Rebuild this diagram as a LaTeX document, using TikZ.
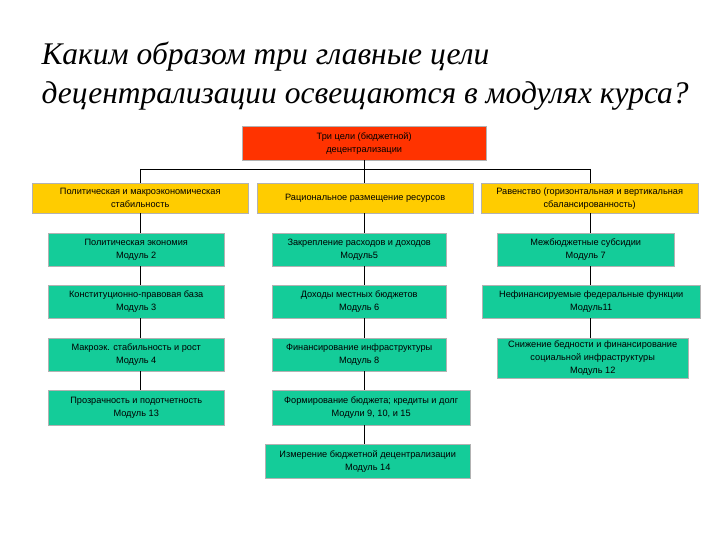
\documentclass[tikz,border=0pt]{standalone}
\usepackage{fontspec}
\setmainfont{Liberation Serif}
\newfontfamily\boxfont{Liberation Sans}
\definecolor{gr}{RGB}{20,204,153}
\definecolor{ye}{RGB}{255,204,0}
\definecolor{rd}{RGB}{255,51,0}
\begin{document}
\begin{tikzpicture}[x=1pt,y=-1pt,
  bx/.style={draw=gray!60,line width=0.4pt,font=\boxfont\fontsize{9.2}{13}\selectfont,align=center,inner sep=0pt,anchor=north west},
  ln/.style={black,line width=0.6pt}]
\useasboundingbox (0,0) rectangle (720,540);
\node[anchor=west,align=left,font=\itshape\fontsize{31.5}{39}\selectfont] (title) at (38,76) {Каким образом три главные цели\\децентрализации освещаются в модулях курса?};
\newcommand\bb[7]{\node[bx,fill=#6,minimum width=#3-#1,minimum height=#4-#2] (#5) at (#1,#2) {#7};}
\bb{242}{126}{486}{160}{top}{rd}{Три цели (бюджетной)\\децентрализации}
\bb{32}{183}{248}{213}{y1}{ye}{Политическая и макроэкономическая\\стабильность}
\bb{257}{183}{473}{213}{y2}{ye}{Рациональное размещение ресурсов}
\bb{481}{183}{698}{213}{y3}{ye}{Равенство (горизонтальная и вертикальная\\сбалансированность)}
\bb{48}{233}{224}{266}{a1}{gr}{Политическая экономия\\Модуль 2}
\bb{48}{285}{224}{318}{a2}{gr}{Конституционно-правовая база\\Модуль 3}
\bb{48}{338}{224}{371}{a3}{gr}{Макроэк. стабильность и рост\\Модуль 4}
\bb{48}{390}{224}{425}{a4}{gr}{Прозрачность и подотчетность\\Модуль 13}
\bb{272}{233}{446}{266}{b1}{gr}{Закрепление расходов и доходов\\Модуль5}
\bb{272}{285}{446}{318}{b2}{gr}{Доходы местных бюджетов\\Модуль 6}
\bb{272}{338}{446}{371}{b3}{gr}{Финансирование инфраструктуры\\Модуль 8}
\bb{272}{390}{470}{425}{b4}{gr}{Формирование бюджета; кредиты и долг\\Модули 9, 10, и 15}
\bb{265}{444}{470}{478}{b5}{gr}{Измерение бюджетной децентрализации\\Модуль 14}
\bb{497}{233}{674}{266}{c1}{gr}{Межбюджетные субсидии\\Модуль 7}
\bb{482}{285}{700}{318}{c2}{gr}{Нефинансируемые федеральные функции\\Модуль11}
\bb{497}{338}{688}{378}{c3}{gr}{Снижение бедности и финансирование\\социальной инфраструктуры\\Модуль 12}
\coordinate (hl) at (140,169);
\coordinate (hr) at (590,169);
\draw[ln] (top.south) -- (top.south|-hl);
\draw[ln] (hl) -- (hr);
\draw[ln] (hl) -- (hl|-y1.north);
\draw[ln] (top.south|-hl) -- (top.south|-y2.north);
\draw[ln] (hr) -- (hr|-y3.north);
\draw[ln] (hl|-y1.south) -- (hl|-a1.north);
\draw[ln] (hl|-a1.south) -- (hl|-a2.north);
\draw[ln] (hl|-a2.south) -- (hl|-a3.north);
\draw[ln] (hl|-a3.south) -- (hl|-a4.north);
\draw[ln] (top.south|-y2.south) -- (top.south|-b1.north);
\draw[ln] (top.south|-b1.south) -- (top.south|-b2.north);
\draw[ln] (top.south|-b2.south) -- (top.south|-b3.north);
\draw[ln] (top.south|-b3.south) -- (top.south|-b4.north);
\draw[ln] (top.south|-b4.south) -- (top.south|-b5.north);
\draw[ln] (hr|-y3.south) -- (hr|-c1.north);
\draw[ln] (hr|-c1.south) -- (hr|-c2.north);
\draw[ln] (hr|-c2.south) -- (hr|-c3.north);
\end{tikzpicture}
\end{document}
